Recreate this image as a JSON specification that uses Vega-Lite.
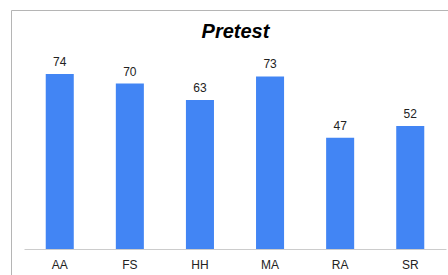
{
  "$schema": "https://vega.github.io/schema/vega-lite/v6.json",
  "autosize": "none",
  "width": 449,
  "height": 290,
  "padding": {"left": 11, "top": 10, "right": 0, "bottom": 0},
  "background": "white",
  "config": {
    "view": {"stroke": "#b5b5b5", "strokeWidth": 1},
    "font": "Liberation Sans"
  },
  "title": {
    "text": "Pretest",
    "font": "Liberation Sans",
    "fontSize": 20,
    "fontStyle": "italic",
    "fontWeight": "bold",
    "color": "#000000",
    "anchor": "middle",
    "frame": "group",
    "baseline": "alphabetic",
    "offset": -48
  },
  "data": {
    "values": [
      {"name": "AA", "score": 74},
      {"name": "FS", "score": 70},
      {"name": "HH", "score": 63},
      {"name": "MA", "score": 73},
      {"name": "RA", "score": 47},
      {"name": "SR", "score": 52}
    ]
  },
  "encoding": {
    "x": {
      "field": "name",
      "type": "nominal",
      "sort": null,
      "scale": {"range": [13, 435], "paddingInner": 0.6, "paddingOuter": 0.31},
      "axis": {
        "title": null,
        "offset": -51,
        "ticks": false,
        "labelAngle": 0,
        "labelPadding": 10,
        "labelFontSize": 12,
        "labelColor": "#222222",
        "labelFont": "Liberation Sans",
        "domainColor": "#cccccc",
        "grid": false
      }
    },
    "y": {
      "field": "score",
      "type": "quantitative",
      "scale": {"domain": [-21.6, 101.1], "nice": false, "zero": false},
      "axis": null
    }
  },
  "layer": [
    {
      "mark": {"type": "bar", "color": "#4285F4"},
      "encoding": {"y2": {"datum": 0}}
    },
    {
      "mark": {"type": "text", "baseline": "alphabetic", "dy": -8, "fontSize": 12, "color": "#222222", "font": "Liberation Sans"},
      "encoding": {"text": {"field": "score", "type": "quantitative"}}
    }
  ]
}
